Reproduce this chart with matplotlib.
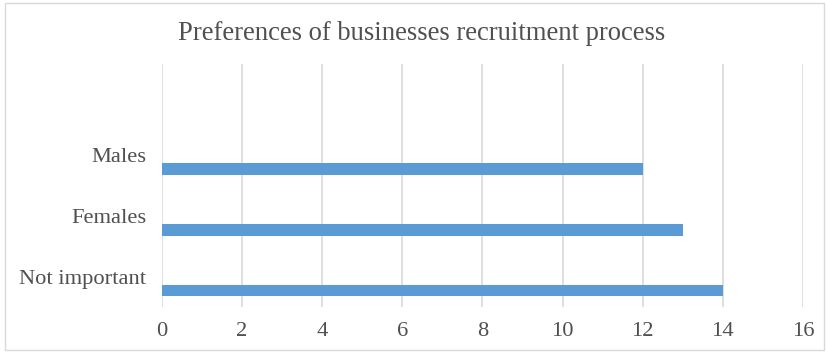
import matplotlib.pyplot as plt
from matplotlib.patches import Rectangle

categories = ["Not important", "Females", "Males"]
values = [14, 13, 12]
x_ticks = [0, 2, 4, 6, 8, 10, 12, 14, 16]

BAR_COLOR = "#5B9BD5"
TEXT_COLOR = "#505050"
GRID_COLOR = "#D9D9D9"

plt.rcParams["font.family"] = ["Liberation Serif", "DejaVu Serif"]

fig = plt.figure(figsize=(8.26, 3.53), dpi=100)
ax = fig.add_axes([0.196, 0.130, 0.776, 0.689])

# bars sit a little below each category line, leaving an empty slot on top
pos = list(range(len(categories)))
ax.barh([p - 0.23 for p in pos], values, height=0.19, color=BAR_COLOR, zorder=3)

ax.set_xlim(0, 16)
ax.set_ylim(-0.5, 3.5)
ax.set_xticks(x_ticks)
ax.set_xticklabels([str(t) for t in x_ticks])
ax.set_yticks(pos)
ax.set_yticklabels(categories)
ax.grid(axis="x", color=GRID_COLOR, linewidth=1.2, zorder=0)
ax.tick_params(length=0, labelsize=16.2, colors=TEXT_COLOR)
ax.tick_params(axis="x", pad=11)
ax.tick_params(axis="y", pad=11)
for s in ax.spines.values():
    s.set_visible(False)

fig.text(0.51, 0.905, "Preferences of businesses recruitment process",
         ha="center", va="center", fontsize=19.2, color=TEXT_COLOR)

# chart frame
fig.patches.append(Rectangle((0.006, 0.008), 0.992, 0.984, transform=fig.transFigure,
                             fill=False, edgecolor=GRID_COLOR, linewidth=1))

fig.savefig("out.png", dpi=100)
